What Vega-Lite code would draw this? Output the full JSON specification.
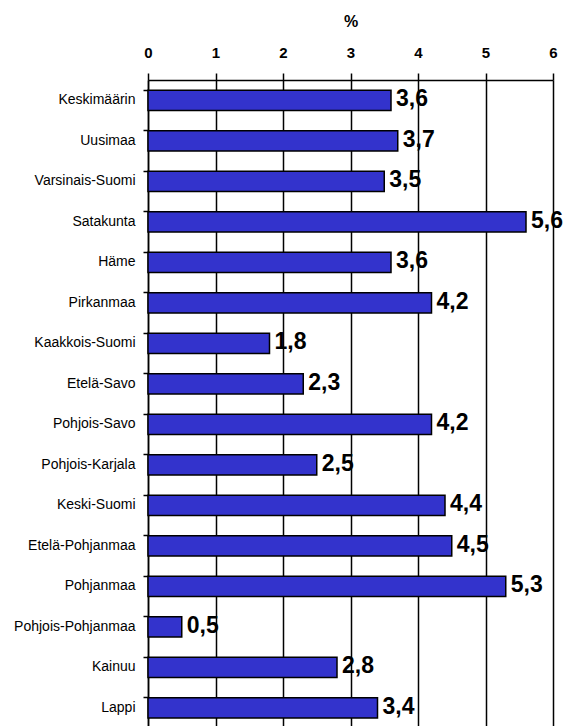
{
  "$schema": "https://vega.github.io/schema/vega-lite/v6.json",
  "autosize": {"type": "none"},
  "padding": {"left": 148, "top": 80, "right": 19, "bottom": 0},
  "width": 405,
  "height": 648,
  "background": "white",
  "config": {
    "locale": {"number": {"decimal": ",", "thousands": " ", "grouping": [3], "currency": ["", " €"]}},
    "font": "Liberation Sans",
    "view": {"stroke": null}
  },
  "data": {
    "values": [
      {"alue": "Keskimäärin", "arvo": 3.6},
      {"alue": "Uusimaa", "arvo": 3.7},
      {"alue": "Varsinais-Suomi", "arvo": 3.5},
      {"alue": "Satakunta", "arvo": 5.6},
      {"alue": "Häme", "arvo": 3.6},
      {"alue": "Pirkanmaa", "arvo": 4.2},
      {"alue": "Kaakkois-Suomi", "arvo": 1.8},
      {"alue": "Etelä-Savo", "arvo": 2.3},
      {"alue": "Pohjois-Savo", "arvo": 4.2},
      {"alue": "Pohjois-Karjala", "arvo": 2.5},
      {"alue": "Keski-Suomi", "arvo": 4.4},
      {"alue": "Etelä-Pohjanmaa", "arvo": 4.5},
      {"alue": "Pohjanmaa", "arvo": 5.3},
      {"alue": "Pohjois-Pohjanmaa", "arvo": 0.5},
      {"alue": "Kainuu", "arvo": 2.8},
      {"alue": "Lappi", "arvo": 3.4}
    ]
  },
  "encoding": {
    "y": {
      "field": "alue",
      "type": "nominal",
      "sort": null,
      "scale": {"paddingInner": 0.5, "paddingOuter": 0.25},
      "axis": {
        "title": null,
        "bandPosition": 0,
        "labelOffset": 0,
        "tickSize": 5,
        "tickColor": "black",
        "tickWidth": 1.5,
        "domainColor": "black",
        "domainWidth": 1.5,
        "labelFont": "Liberation Sans",
        "labelFontSize": 14,
        "labelColor": "black",
        "labelPadding": 8,
        "labelLimit": 200
      }
    },
    "x": {
      "field": "arvo",
      "type": "quantitative",
      "scale": {"domain": [0, 6], "nice": false},
      "axis": {
        "orient": "top",
        "title": "%",
        "titleFontSize": 16,
        "titleFontWeight": "bold",
        "titleColor": "black",
        "titlePadding": 16,
        "values": [0, 1, 2, 3, 4, 5, 6],
        "format": "d",
        "labelFontSize": 15,
        "labelFontWeight": "bold",
        "labelColor": "black",
        "labelPadding": 13,
        "labelFlush": false,
        "tickSize": 7,
        "tickColor": "black",
        "tickWidth": 1.5,
        "domainColor": "black",
        "domainWidth": 1.5,
        "grid": true,
        "gridColor": "black",
        "gridWidth": 1.5,
        "gridOpacity": 1
      }
    }
  },
  "layer": [
    {
      "mark": {"type": "bar", "fill": "#3333CC", "stroke": "black", "strokeWidth": 1.5}
    },
    {
      "mark": {"type": "text", "align": "left", "baseline": "middle", "dx": 5, "dy": -1, "fontSize": 23, "fontWeight": "bold", "color": "black", "font": "Liberation Sans"},
      "encoding": {"text": {"field": "arvo", "type": "quantitative", "format": ".1f"}}
    }
  ]
}
